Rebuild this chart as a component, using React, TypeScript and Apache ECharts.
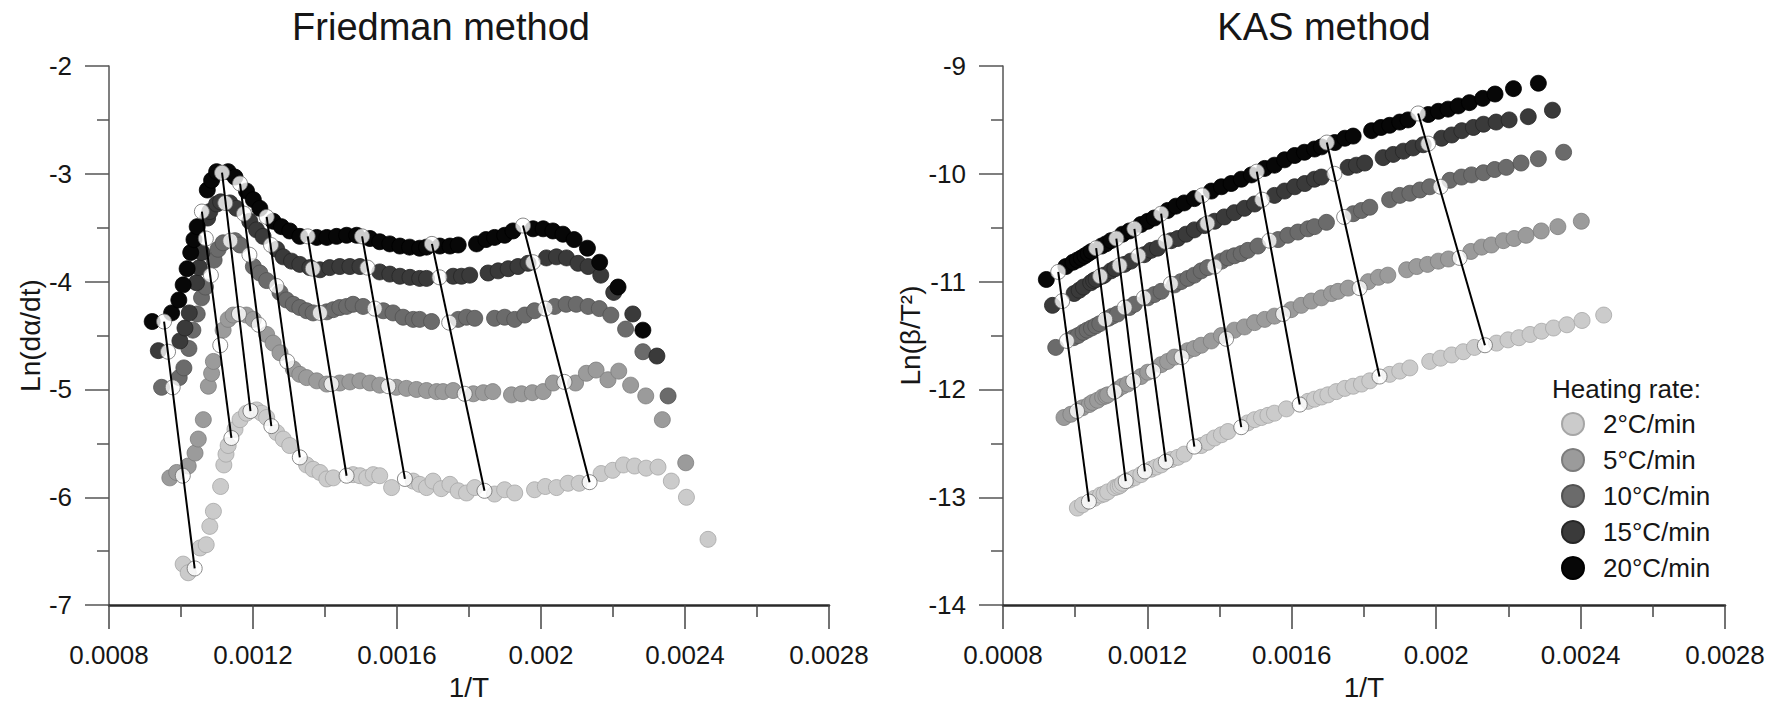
import React, { useEffect, useRef } from "react";
import * as echarts from "echarts";

const FONT = "'Liberation Sans', Arial, Helvetica, sans-serif";

const rateNames = ["2°C/min", "5°C/min", "10°C/min", "15°C/min", "20°C/min"];
const rateColors = ["#cbcbcb", "#9b9b9b", "#6b6b6b", "#3a3a3a", "#070707"];
const rateBorders = ["#a6a6a6", "#7c7c7c", "#525252", "#262626", "#000000"];
const xTickLabels = ["0.0008", "0.0012", "0.0016", "0.002", "0.0024", "0.0028"];
const friedmanTicks = [-7, -6, -5, -4, -3, -2];
const kasTicks = [-14, -13, -12, -11, -10, -9];

// 1/T in units of 1e-4 K^-1 (shared by both methods)
const invT2 = [10.06, 10.2, 10.53, 10.7, 10.8, 10.9, 11.1, 11.19, 11.25, 11.31, 11.5, 11.64, 11.82, 12.1, 12.24, 12.38, 12.66, 12.84, 13.02, 13.49, 13.67, 13.86, 14.05, 14.23, 14.78, 14.97, 15.16, 15.34, 15.52, 15.85, 16.45, 16.63, 16.82, 17.0, 17.23, 17.47, 17.7, 17.93, 18.16, 18.71, 18.99, 19.27, 19.82, 20.12, 20.43, 20.75, 21.06, 21.67, 21.99, 22.29, 22.6, 22.92, 23.25, 23.62, 24.04, 24.64];
const friedman2 = [-6.62, -6.7, -6.47, -6.44, -6.27, -6.13, -5.9, -5.7, -5.6, -5.52, -5.37, -5.28, -5.22, -5.19, -5.22, -5.26, -5.4, -5.46, -5.52, -5.7, -5.74, -5.77, -5.83, -5.82, -5.79, -5.8, -5.82, -5.79, -5.8, -5.91, -5.85, -5.88, -5.91, -5.85, -5.92, -5.88, -5.94, -5.96, -5.91, -5.97, -5.93, -5.96, -5.93, -5.9, -5.91, -5.87, -5.87, -5.78, -5.75, -5.7, -5.71, -5.73, -5.72, -5.85, -6.0, -6.39];
const kas2 = [-13.1, -13.07, -13.01, -12.98, -12.97, -12.95, -12.91, -12.9, -12.89, -12.87, -12.84, -12.82, -12.79, -12.74, -12.72, -12.7, -12.65, -12.63, -12.6, -12.52, -12.49, -12.45, -12.42, -12.39, -12.31, -12.28, -12.26, -12.24, -12.22, -12.18, -12.11, -12.09, -12.07, -12.05, -12.02, -11.99, -11.97, -11.95, -11.92, -11.86, -11.83, -11.8, -11.74, -11.71, -11.68, -11.65, -11.61, -11.57, -11.54, -11.52, -11.49, -11.46, -11.43, -11.4, -11.36, -11.31];

const invT5 = [9.69, 9.88, 10.2, 10.39, 10.48, 10.62, 10.76, 10.85, 10.9, 11.17, 11.31, 11.45, 11.82, 12.01, 12.38, 12.56, 12.75, 13.12, 13.3, 13.49, 13.77, 14.05, 14.41, 14.69, 14.97, 15.25, 15.52, 15.98, 16.26, 16.54, 16.82, 17.1, 17.28, 17.56, 18.12, 18.4, 18.66, 19.18, 19.46, 19.76, 20.06, 20.34, 20.96, 21.26, 21.53, 21.86, 22.16, 22.49, 22.91, 23.37, 24.02];
const friedman5 = [-5.82, -5.77, -5.71, -5.59, -5.46, -5.28, -4.97, -4.85, -4.74, -4.45, -4.35, -4.31, -4.31, -4.35, -4.49, -4.57, -4.66, -4.81, -4.86, -4.89, -4.92, -4.95, -4.94, -4.93, -4.92, -4.94, -4.96, -4.98, -4.99, -5.0, -5.01, -5.02, -5.02, -5.01, -5.04, -5.03, -5.02, -5.05, -5.04, -5.03, -5.02, -4.94, -4.94, -4.85, -4.82, -4.91, -4.83, -4.96, -5.06, -5.28, -5.68];
const kas5 = [-12.26, -12.23, -12.17, -12.14, -12.12, -12.1, -12.07, -12.06, -12.05, -12.0, -11.97, -11.95, -11.88, -11.84, -11.77, -11.74, -11.7, -11.64, -11.62, -11.59, -11.55, -11.5, -11.45, -11.42, -11.38, -11.35, -11.32, -11.26, -11.22, -11.18, -11.15, -11.11, -11.09, -11.06, -11.0, -10.96, -10.94, -10.89, -10.86, -10.84, -10.81, -10.79, -10.72, -10.68, -10.66, -10.62, -10.6, -10.57, -10.53, -10.49, -10.44];

const invT10 = [9.46, 9.95, 10.08, 10.22, 10.33, 10.45, 10.57, 10.68, 10.92, 11.03, 11.17, 11.5, 11.64, 12.01, 12.19, 12.38, 12.75, 12.93, 13.12, 13.3, 13.49, 13.67, 14.05, 14.23, 14.41, 14.6, 14.78, 15.06, 15.62, 15.89, 16.17, 16.45, 16.63, 16.96, 17.7, 17.93, 18.16, 18.71, 18.99, 19.27, 19.55, 19.82, 20.38, 20.7, 20.98, 21.31, 21.62, 21.94, 22.35, 22.83, 23.53];
const friedman10 = [-4.98, -4.89, -4.8, -4.62, -4.45, -4.3, -4.15, -4.05, -3.8, -3.7, -3.64, -3.62, -3.66, -3.86, -3.92, -3.99, -4.1, -4.17, -4.21, -4.24, -4.27, -4.29, -4.28, -4.26, -4.24, -4.23, -4.21, -4.23, -4.27, -4.29, -4.33, -4.35, -4.35, -4.37, -4.35, -4.33, -4.34, -4.34, -4.33, -4.35, -4.31, -4.27, -4.23, -4.21, -4.21, -4.23, -4.25, -4.31, -4.44, -4.65, -5.06];
const kas10 = [-11.61, -11.52, -11.5, -11.47, -11.45, -11.43, -11.41, -11.39, -11.34, -11.32, -11.3, -11.24, -11.21, -11.15, -11.12, -11.09, -11.03, -11.0, -10.97, -10.94, -10.9, -10.87, -10.81, -10.78, -10.76, -10.74, -10.71, -10.67, -10.61, -10.57, -10.54, -10.51, -10.49, -10.45, -10.37, -10.34, -10.31, -10.24, -10.2, -10.18, -10.15, -10.12, -10.06, -10.03, -10.01, -9.99, -9.96, -9.94, -9.9, -9.86, -9.8];

const invT15 = [9.37, 9.97, 10.11, 10.23, 10.43, 10.51, 10.58, 10.74, 10.8, 10.99, 11.1, 11.36, 11.54, 11.91, 12.1, 12.28, 12.66, 12.84, 13.07, 13.3, 13.58, 13.86, 14.13, 14.41, 14.69, 14.97, 15.52, 15.8, 16.08, 16.36, 16.63, 16.82, 17.56, 17.79, 18.02, 18.53, 18.81, 19.09, 19.36, 19.64, 20.15, 20.43, 20.71, 21.03, 21.31, 21.66, 22.02, 22.55, 23.22];
const friedman15 = [-4.64, -4.55, -4.43, -4.29, -4.01, -3.87, -3.73, -3.41, -3.35, -3.28, -3.26, -3.27, -3.32, -3.44, -3.52, -3.58, -3.7, -3.77, -3.81, -3.84, -3.87, -3.89, -3.87, -3.86, -3.86, -3.86, -3.91, -3.93, -3.95, -3.96, -3.97, -3.97, -3.95, -3.95, -3.94, -3.92, -3.9, -3.88, -3.86, -3.83, -3.78, -3.77, -3.78, -3.83, -3.86, -3.94, -4.1, -4.3, -4.69];
const kas15 = [-11.22, -11.11, -11.08, -11.05, -11.01, -10.99, -10.98, -10.95, -10.94, -10.9, -10.88, -10.84, -10.81, -10.75, -10.71, -10.69, -10.62, -10.6, -10.56, -10.52, -10.48, -10.44, -10.4, -10.36, -10.32, -10.28, -10.2, -10.16, -10.12, -10.09, -10.05, -10.03, -9.94, -9.92, -9.9, -9.85, -9.82, -9.79, -9.76, -9.73, -9.67, -9.64, -9.6, -9.57, -9.54, -9.52, -9.5, -9.47, -9.41];

const invT20 = [9.2, 9.74, 9.94, 10.06, 10.17, 10.27, 10.36, 10.45, 10.73, 10.85, 10.99, 11.31, 11.5, 11.82, 12.01, 12.19, 12.56, 12.79, 13.02, 13.3, 13.77, 14.05, 14.32, 14.6, 14.88, 15.25, 15.52, 15.8, 16.08, 16.35, 16.63, 16.82, 17.19, 17.47, 17.7, 18.21, 18.47, 18.71, 18.99, 19.22, 19.78, 20.06, 20.33, 20.61, 20.92, 21.29, 21.63, 22.14, 22.83];
const friedman20 = [-4.37, -4.29, -4.17, -4.03, -3.88, -3.73, -3.61, -3.49, -3.15, -3.06, -2.98, -2.98, -3.03, -3.16, -3.24, -3.32, -3.44, -3.49, -3.53, -3.58, -3.59, -3.59, -3.58, -3.57, -3.57, -3.6, -3.63, -3.65, -3.67, -3.68, -3.69, -3.68, -3.67, -3.67, -3.66, -3.65, -3.61, -3.59, -3.57, -3.53, -3.51, -3.51, -3.53, -3.56, -3.61, -3.69, -3.82, -4.05, -4.45];
const kas20 = [-10.98, -10.86, -10.82, -10.8, -10.78, -10.76, -10.74, -10.72, -10.67, -10.65, -10.62, -10.56, -10.53, -10.47, -10.44, -10.41, -10.34, -10.3, -10.27, -10.23, -10.16, -10.12, -10.09, -10.05, -10.01, -9.95, -9.92, -9.87, -9.83, -9.8, -9.77, -9.75, -9.71, -9.67, -9.65, -9.6, -9.57, -9.55, -9.52, -9.5, -9.45, -9.42, -9.4, -9.37, -9.34, -9.3, -9.26, -9.21, -9.16];

// isoconversional lines: points ordered 20, 15, 10, 5, 2 °C/min
const isoInvT = [
  [9.53, 9.64, 9.77, 10.05, 10.38],
  [10.58, 10.69, 10.83, 11.09, 11.4],
  [11.14, 11.23, 11.37, 11.61, 11.93],
  [11.64, 11.75, 11.9, 12.16, 12.51],
  [12.38, 12.5, 12.65, 12.95, 13.3],
  [13.52, 13.66, 13.86, 14.18, 14.6],
  [15.03, 15.18, 15.38, 15.76, 16.22],
  [16.97, 17.18, 17.45, 17.88, 18.43],
  [19.5, 19.78, 20.12, 20.65, 21.35],
];
const isoFriedman = [
  [-4.37, -4.65, -4.98, -5.8, -6.66],
  [-3.35, -3.6, -3.94, -4.59, -5.45],
  [-2.99, -3.27, -3.62, -4.3, -5.2],
  [-3.09, -3.37, -3.75, -4.4, -5.34],
  [-3.4, -3.66, -4.04, -4.74, -5.63],
  [-3.58, -3.88, -4.29, -4.95, -5.8],
  [-3.58, -3.87, -4.25, -4.97, -5.83],
  [-3.65, -3.96, -4.38, -5.04, -5.94],
  [-3.48, -3.82, -4.25, -4.93, -5.86],
];
const isoKas = [
  [-10.91, -11.18, -11.55, -12.2, -13.04],
  [-10.69, -10.95, -11.35, -12.02, -12.85],
  [-10.6, -10.85, -11.24, -11.92, -12.76],
  [-10.51, -10.76, -11.15, -11.83, -12.67],
  [-10.37, -10.63, -11.02, -11.7, -12.53],
  [-10.2, -10.46, -10.86, -11.53, -12.35],
  [-9.98, -10.24, -10.62, -11.3, -12.14],
  [-9.71, -10.0, -10.4, -11.06, -11.88],
  [-9.44, -9.72, -10.12, -10.78, -11.59],
];

const invTs = [invT2, invT5, invT10, invT15, invT20];
const friedmanYs = [friedman2, friedman5, friedman10, friedman15, friedman20];
const kasYs = [kas2, kas5, kas10, kas15, kas20];

const TEXT = "#161616";
const LABEL_SIZE = 26;
const NAME_SIZE = 28;

function makeX(gridIndex: number) {
  return {
    type: "value",
    gridIndex,
    min: 8,
    max: 28,
    interval: 4,
    name: "1/T",
    nameLocation: "middle",
    nameGap: 67,
    nameTextStyle: { fontSize: NAME_SIZE, color: TEXT, fontFamily: FONT },
    axisLine: { show: true, onZero: false, lineStyle: { color: "#2a2a2a", width: 2.5 } },
    axisTick: { show: true, inside: false, length: 24, lineStyle: { color: "#444", width: 1.5 } },
    minorTick: { show: true, splitNumber: 2, length: 12, lineStyle: { color: "#444", width: 1.5 } },
    splitLine: { show: false },
    minorSplitLine: { show: false },
    axisLabel: {
      margin: 37,
      fontSize: LABEL_SIZE,
      color: TEXT,
      fontFamily: FONT,
      formatter: (v: number) => xTickLabels[Math.round((v - 8) / 4)] ?? "",
    },
  };
}

function makeY(gridIndex: number, ticks: number[], name: string) {
  return {
    type: "value",
    gridIndex,
    min: ticks[0],
    max: ticks[ticks.length - 1],
    interval: 1,
    name,
    nameLocation: "middle",
    nameGap: 64,
    nameTextStyle: { fontSize: NAME_SIZE, color: TEXT, fontFamily: FONT },
    axisLine: { show: true, onZero: false, lineStyle: { color: "#555", width: 1.5 } },
    axisTick: { show: true, inside: false, length: 24, lineStyle: { color: "#555", width: 1.5 } },
    minorTick: { show: true, splitNumber: 2, length: 12, lineStyle: { color: "#555", width: 1.5 } },
    splitLine: { show: false },
    minorSplitLine: { show: false },
    axisLabel: { margin: 37, fontSize: LABEL_SIZE, color: TEXT, fontFamily: FONT },
  };
}

function buildSeries(gridIndex: number, ys: number[][], isoYs: number[][]) {
  const out: any[] = [];
  for (let r = 0; r < 5; r++) {
    out.push({
      type: "scatter",
      name: rateNames[r],
      xAxisIndex: gridIndex,
      yAxisIndex: gridIndex,
      symbol: "circle",
      symbolSize: 16,
      z: 2,
      itemStyle: { color: rateColors[r], borderColor: rateBorders[r], borderWidth: 0.8, opacity: 1 },
      data: invTs[r].map((x, k) => [x, ys[r][k]]),
    });
  }
  const markers: number[][] = [];
  isoInvT.forEach((xs, i) => xs.forEach((x, k) => markers.push([x, isoYs[i][k]])));
  out.push({
    type: "scatter",
    xAxisIndex: gridIndex,
    yAxisIndex: gridIndex,
    symbol: "circle",
    symbolSize: 15,
    z: 3,
    silent: true,
    itemStyle: { color: "#ffffff", borderColor: "#6a6a6a", borderWidth: 1 },
    data: markers,
  });
  isoInvT.forEach((xs, i) => {
    out.push({
      type: "line",
      xAxisIndex: gridIndex,
      yAxisIndex: gridIndex,
      symbol: "none",
      z: 4,
      silent: true,
      lineStyle: { color: "#000", width: 2 },
      data: [
        [xs[0], isoYs[i][0]],
        [xs[4], isoYs[i][4]],
      ],
    });
  });
  return out;
}

function textEl(text: string, x: number, y: number, size: number, align: string) {
  return {
    type: "text",
    x,
    y,
    style: {
      text,
      fontSize: size,
      fontFamily: FONT,
      fill: TEXT,
      align,
      verticalAlign: "middle",
      textAlign: align,
      textVerticalAlign: "middle",
    },
  };
}

export default function App() {
  const ref = useRef<HTMLDivElement>(null);
  useEffect(() => {
    if (!ref.current) return;
    const chart = echarts.init(ref.current, undefined, { renderer: "svg" });
    chart.setOption({
      animation: false,
      backgroundColor: "#ffffff",
      textStyle: { fontFamily: FONT },
      grid: [
        { left: 109, top: 66, width: 720, height: 540 },
        { left: 1003, top: 66, width: 722, height: 540 },
      ],
      xAxis: [makeX(0), makeX(1)],
      yAxis: [makeY(0, friedmanTicks, "Ln(dα/dt)"), makeY(1, kasTicks, "Ln(β/T²)")],
      legend: {
        data: rateNames,
        orient: "vertical",
        left: 1556,
        top: 406,
        itemWidth: 22,
        itemHeight: 22,
        itemGap: 10,
        icon: "circle",
        selectedMode: false,
        textStyle: { fontSize: LABEL_SIZE, color: TEXT, fontFamily: FONT, padding: [0, 0, 0, 14] },
      },
      graphic: [
        textEl("Friedman method", 441, 27, 38, "center"),
        textEl("KAS method", 1324, 27, 38, "center"),
        textEl("Heating rate:", 1552, 389, LABEL_SIZE, "left"),
      ],
      series: [...buildSeries(0, friedmanYs, isoFriedman), ...buildSeries(1, kasYs, isoKas)],
    });
    return () => chart.dispose();
  }, []);
  return (
    <div
      ref={ref}
      style={{ position: "absolute", left: 0, top: 0, width: 1788, height: 706, background: "#fff" }}
    />
  );
}
